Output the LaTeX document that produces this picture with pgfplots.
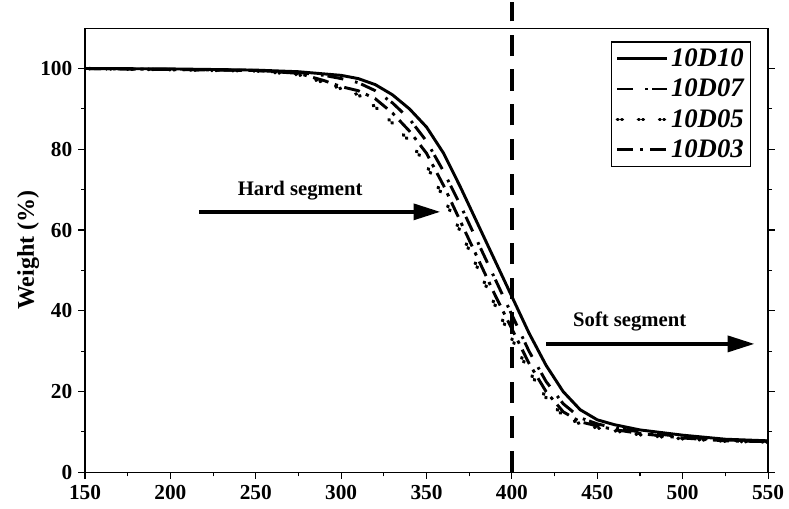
\documentclass[border=0pt]{standalone}
\usepackage{pgfplots}
\pgfplotsset{compat=1.18}
\usepackage{fontspec}
\setmainfont{Liberation Serif}
\usetikzlibrary{arrows.meta}
\begin{document}
\begin{tikzpicture}
\begin{axis}[
  scale only axis, width=512pt, height=333pt,
  xmin=150, xmax=550, ymin=0, ymax=110,
  xtick={150,200,...,550}, ytick={0,20,...,100},
  minor x tick num=1, minor y tick num=1,
  tick align=outside, xtick pos=bottom, ytick pos=both,
  major tick length=5pt, minor tick length=3pt,
  tick style={black, line width=0.8pt},
  axis line style={line width=0.9pt},
  /pgf/number format/assume math mode=true,
  ticklabel style={font=\fontsize{16}{18}\selectfont\bfseries},
  xticklabel style={yshift=-1pt},
  yticklabel style={xshift=-1pt},
  ylabel={Weight (\%)},
  ylabel style={font=\fontsize{18}{20}\selectfont\bfseries, yshift=-6pt},
  clip=false,
  legend style={at={(0.975,0.97)}, anchor=north east, draw=black, line width=0.9pt,
    font=\fontsize{20}{22}\selectfont\bfseries\itshape, row sep=4pt, inner sep=3pt},
  legend cell align=left,
  legend image code/.code={\draw[#1] (0cm,0cm) -- (1.3cm,0cm);},
]
\path (rel axis cs:-0.1245,-0.081) rectangle (rel axis cs:1.0307,1.063);
\addplot[black, line width=2.2pt] coordinates {
(150,100) (200,99.9) (250,99.6) (275,99.2) (300,98.3) (310,97.5) (320,96) (330,93.5) (340,90) (350,85.5) (360,79) (370,70.5) (380,61.5) (390,52.5) (400,43.5) (410,34.5) (420,26.5) (430,20) (440,15.5) (450,13) (460,11.8) (475,10.5) (500,9.2) (525,8.2) (550,7.8)};
\addlegendentry{10D10}
\addplot[black, line width=2.2pt, dash pattern=on 12pt off 9pt on 2pt off 3pt] coordinates {
(150,100) (250,99.5) (275,99) (290,98.3) (300,97.5) (310,96.5) (320,94.5) (330,91.5) (340,87.5) (350,82) (360,74.5) (370,66) (380,57) (390,48) (400,39) (410,30) (420,22.5) (430,17) (440,13.5) (450,12) (460,11) (475,10) (500,8.8) (525,8) (550,7.7)};
\addlegendentry{10D07}
\addplot[black, line width=2.6pt, line cap=round, dash pattern=on 0.6pt off 2.6pt on 0.6pt off 12pt] coordinates {
(150,100) (250,99.4) (275,98.5) (290,96.5) (300,95) (310,93.5) (320,90.5) (330,86.5) (340,82) (350,76) (360,68) (370,59.5) (380,50.5) (390,41.5) (400,33) (410,25) (420,18.5) (430,14) (440,12) (450,11) (460,10.3) (475,9.3) (500,8.3) (525,7.7) (550,7.5)};
\addlegendentry{10D05}
\addplot[black, line width=2.2pt, dash pattern=on 12pt off 5pt on 2.5pt off 5pt] coordinates {
(150,100) (250,99.5) (275,98.8) (290,97) (300,95.5) (310,94.5) (320,92.5) (330,89) (340,84.5) (350,79) (360,71) (370,62) (380,53) (390,44) (400,35.5) (410,27) (420,20) (430,15) (440,12.5) (450,11.5) (460,10.6) (475,9.6) (500,8.5) (525,7.8) (550,7.6)};
\addlegendentry{10D03}
\draw[black, line width=2.8pt, dash pattern=on 16pt off 10pt] (axis cs:400,0) -- (axis cs:400,116.5);
\draw[black, line width=2.5pt, -{Triangle[length=20pt,width=12pt]}] (axis cs:217,64.5) -- (axis cs:358,64.5);
\node[font=\fontsize{15.5}{17}\selectfont\bfseries] at (axis cs:276,69.7) {Hard segment};
\draw[black, line width=2.5pt, -{Triangle[length=20pt,width=12pt]}] (axis cs:420,31.8) -- (axis cs:542,31.8);
\node[font=\fontsize{15.5}{17}\selectfont\bfseries] at (axis cs:469,37.4) {Soft segment};
\end{axis}
\end{tikzpicture}
\end{document}
